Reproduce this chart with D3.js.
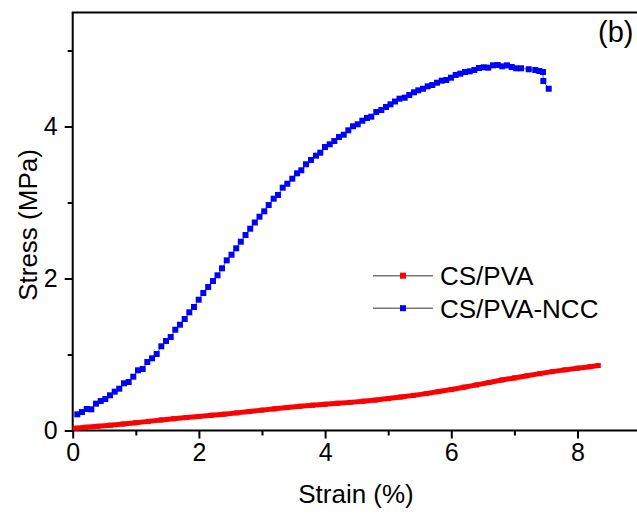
<!DOCTYPE html>
<html>
<head>
<meta charset="utf-8">
<script src="https://cdn.jsdelivr.net/npm/d3@7"></script>
<style>
  body { margin: 0; background: #fff; }
  svg { display: block; font-family: "Liberation Sans", Arial, sans-serif; }
</style>
</head>
<body>
<div id="chart"></div>
<script>
// Strain (%) and stress (MPa)
const ncc_strain = [0.073,0.147,0.222,0.295,0.369,0.444,0.517,0.591,0.666,0.738,0.813,0.887,0.960,1.035,1.109,1.182,1.257,1.331,1.404,1.479,1.553,1.626,1.700,1.775,1.848,1.922,1.997,2.070,2.147,2.223,2.295,2.366,2.441,2.517,2.591,2.664,2.739,2.813,2.886,2.960,3.036,3.106,3.185,3.254,3.328,3.401,3.480,3.555,3.623,3.697,3.777,3.856,3.924,3.998,4.073,4.146,4.220,4.295,4.368,4.442,4.517,4.590,4.664,4.732,4.811,4.891,4.965,5.036,5.108,5.179,5.261,5.334,5.409,5.477,5.552,5.626,5.699,5.773,5.848,5.921,5.995,6.070,6.143,6.217,6.292,6.365,6.439,6.513,6.586,6.661,6.735,6.808,6.883,6.957,7.030,7.105,7.227,7.331,7.395,7.453,7.458,7.544];
const ncc_stress = [0.213,0.243,0.283,0.279,0.353,0.388,0.414,0.463,0.511,0.550,0.621,0.638,0.708,0.792,0.809,0.901,0.950,1.007,1.108,1.178,1.230,1.326,1.392,1.467,1.555,1.625,1.721,1.809,1.888,1.967,2.042,2.134,2.239,2.313,2.397,2.484,2.572,2.655,2.737,2.813,2.884,2.967,3.050,3.099,3.195,3.247,3.313,3.384,3.424,3.503,3.559,3.616,3.655,3.730,3.766,3.809,3.862,3.892,3.950,4.003,4.029,4.076,4.112,4.129,4.191,4.217,4.257,4.292,4.329,4.366,4.379,4.414,4.450,4.476,4.497,4.529,4.546,4.576,4.603,4.612,4.642,4.678,4.695,4.717,4.726,4.743,4.770,4.779,4.774,4.805,4.809,4.792,4.805,4.783,4.766,4.766,4.753,4.743,4.730,4.717,4.599,4.497];

const pva_strain = [0.04,0.2,0.4,0.6,0.8,1.0,1.2,1.4,1.6,1.8,2.0,2.2,2.4,2.6,2.8,3.0,3.2,3.4,3.6,3.8,4.0,4.2,4.4,4.6,4.8,5.0,5.2,5.4,5.6,5.8,6.0,6.2,6.4,6.6,6.8,7.0,7.2,7.4,7.6,7.8,8.0,8.2,8.33];
const pva_stress = [0.030,0.042,0.055,0.070,0.085,0.103,0.120,0.138,0.155,0.170,0.185,0.200,0.215,0.232,0.250,0.268,0.285,0.302,0.318,0.332,0.345,0.358,0.370,0.385,0.400,0.420,0.440,0.462,0.485,0.512,0.540,0.570,0.600,0.632,0.665,0.692,0.720,0.748,0.775,0.798,0.820,0.840,0.855];

const series_names = ["CS/PVA", "CS/PVA-NCC"];
const series_colors = ["#ff0000", "#0000ff"];
const x_ticks = [0, 2, 4, 6, 8];
const x_minor = [1, 3, 5, 7];
const y_ticks = [0, 2, 4];
const y_minor = [1, 3, 5];

const width = 637, height = 514;
const plotLeft = 72.7, plotBottom = 430.5, plotTop = 12.5;

const svg = d3.select("#chart").append("svg")
    .attr("width", width)
    .attr("height", height);

const x = d3.scaleLinear().domain([0, 9]).range([plotLeft, plotLeft + 9 * 63.1]);
const y = d3.scaleLinear().domain([0, 5.5]).range([plotBottom, plotTop]);

// axes with major/minor ticks pointing out
function styleAxis(g) {
  g.select(".domain").remove();
  g.selectAll(".tick line").attr("stroke", "#000").attr("stroke-width", 2);
  g.selectAll(".tick text").attr("font-size", 25).attr("fill", "#000")
    .attr("font-family", "Liberation Sans, Arial, sans-serif");
}

svg.append("g")
    .attr("transform", `translate(0,${plotBottom})`)
    .call(d3.axisBottom(x).tickValues(x_minor).tickSize(5).tickFormat(""))
    .call(styleAxis);
svg.append("g")
    .attr("transform", `translate(0,${plotBottom})`)
    .call(d3.axisBottom(x).tickValues(x_ticks).tickSize(8).tickPadding(5).tickFormat(d3.format("d")))
    .call(styleAxis);
svg.append("g")
    .attr("transform", `translate(${plotLeft},0)`)
    .call(d3.axisLeft(y).tickValues(y_minor).tickSize(5).tickFormat(""))
    .call(styleAxis);
svg.append("g")
    .attr("transform", `translate(${plotLeft},0)`)
    .call(d3.axisLeft(y).tickValues(y_ticks).tickSize(8).tickPadding(7).tickFormat(d3.format("d")))
    .call(styleAxis);

// frame lines
svg.append("line").attr("x1", plotLeft).attr("x2", width).attr("y1", plotBottom).attr("y2", plotBottom)
    .attr("stroke", "#000").attr("stroke-width", 2);
svg.append("line").attr("x1", plotLeft).attr("x2", plotLeft).attr("y1", plotTop).attr("y2", plotBottom)
    .attr("stroke", "#000").attr("stroke-width", 2);
svg.append("line").attr("x1", plotLeft - 1).attr("x2", width).attr("y1", plotTop).attr("y2", plotTop)
    .attr("stroke", "#000").attr("stroke-width", 2);

const line = d3.line().x(d => x(d[0])).y(d => y(d[1]));

// CS/PVA: dense points, drawn as thick line
const pva = pva_strain.map((s, i) => [s, pva_stress[i]]);
svg.append("path").datum(pva)
    .attr("d", line)
    .attr("fill", "none")
    .attr("stroke", series_colors[0])
    .attr("stroke-width", 5);
svg.append("g").selectAll("rect")
    .data(pva).enter().append("rect")
    .attr("x", d => x(d[0]) - 2.5)
    .attr("y", d => y(d[1]) - 2.5)
    .attr("width", 5).attr("height", 5)
    .attr("fill", series_colors[0]);

// CS/PVA-NCC
const ncc = ncc_strain.map((s, i) => [s, ncc_stress[i]]);
svg.append("path").datum(ncc)
    .attr("d", line)
    .attr("fill", "none")
    .attr("stroke", "#333")
    .attr("stroke-width", 0.8);
svg.append("g").selectAll("rect")
    .data(ncc).enter().append("rect")
    .attr("x", d => x(d[0]) - 3)
    .attr("y", d => y(d[1]) - 3)
    .attr("width", 6).attr("height", 6)
    .attr("fill", series_colors[1]);

// legend
const legend = svg.append("g");
series_names.forEach((name, i) => {
  const ly = 275.7 + i * 32.5;
  legend.append("line").attr("x1", 373).attr("x2", 433).attr("y1", ly).attr("y2", ly)
      .attr("stroke", "#777").attr("stroke-width", 1.5);
  legend.append("rect").attr("x", 400).attr("y", ly - 3).attr("width", 6).attr("height", 6)
      .attr("fill", series_colors[i]);
  legend.append("text").attr("x", 440).attr("y", ly + 9.5)
      .attr("font-size", 26).text(name);
});

// axis titles
svg.append("text").attr("x", 356).attr("y", 503)
    .attr("text-anchor", "middle").attr("font-size", 26).text("Strain (%)");
svg.append("text").attr("transform", "translate(37,225) rotate(-90)")
    .attr("text-anchor", "middle").attr("font-size", 26).text("Stress (MPa)");

svg.append("text").attr("x", 598).attr("y", 42)
    .attr("font-size", 29).text("(b)");
</script>
</body>
</html>
